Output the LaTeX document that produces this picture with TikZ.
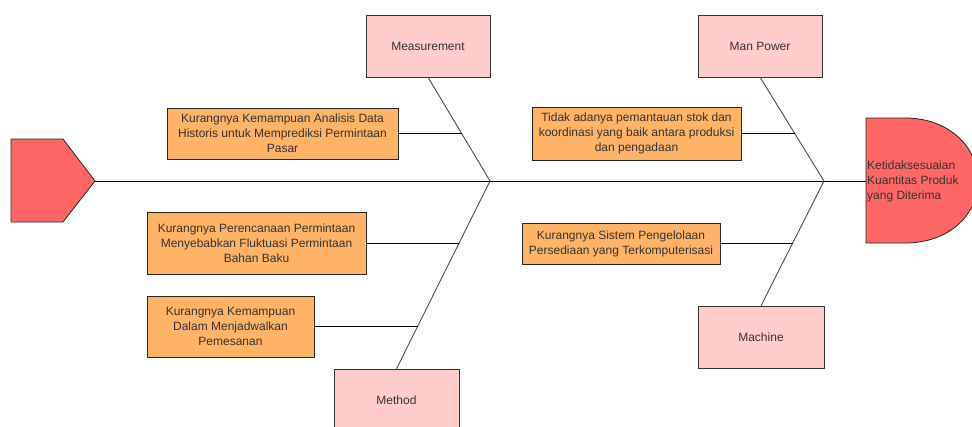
\documentclass[tikz,border=0pt]{standalone}
\usepackage{fontspec}
\setmainfont{Liberation Sans}
\definecolor{catpink}{HTML}{FFCCCC}
\definecolor{causeor}{HTML}{FFB366}
\definecolor{headred}{HTML}{FF6666}
\definecolor{txt}{HTML}{333333}
\begin{document}
\begin{tikzpicture}[x=1pt,y=-1pt,
  txtfont/.style={font=\fontsize{12}{15}\selectfont, text=txt},
  cat/.style={draw=black!80, fill=catpink, minimum width=124pt, minimum height=62pt, inner sep=0pt, txtfont},
  cause/.style={draw=black!85, fill=causeor, inner sep=0pt, align=center, txtfont},
  bone/.style={draw=black!70, line width=0.9pt},
  twig/.style={draw=black, line width=0.8pt}]
\useasboundingbox (0,0) rectangle (972,426);
\begin{scope}
\clip (0,0) rectangle (972,426);
% tail
\draw[fill=headred, draw=black!85, line width=0.8pt] (11,139) -- (63,139) -- (95,181) -- (63,222) -- (11,222) -- cycle;
\coordinate (tail) at (95,181);
% head
\draw[fill=headred, draw=black!85, line width=0.8pt] (866,118) -- (905,118) .. controls (950,118) and (978,148) .. (978,181) .. controls (978,214) and (950,243) .. (905,243) -- (866,243) -- cycle;
\coordinate (head) at (866,181);
\node[anchor=west, align=left, inner sep=0pt, txtfont] (headtxt) at (867,181) {Ketidaksesuaian\\Kuantitas Produk\\yang Diterima};
% spine
\coordinate (j1) at (490,181);
\coordinate (j2) at (824,181);
\draw[twig] (tail) -- (head);
% categories
\node[cat] (meas) at (428,46) {Measurement};
\node[cat] (man) at (760,46) {Man Power};
\node[cat, minimum width=126pt] (mach) at (761,337) {Machine};
\node[cat, minimum width=125pt] (meth) at (396.5,400) {Method};
\draw[bone] (meas.south) -- (j1);
\draw[bone] (meth.north) -- (j1);
\draw[bone] (man.south) -- (j2);
\draw[bone] (mach.north) -- (j2);
% causes
\node[cause, minimum width=231pt, minimum height=51pt] (c1) at (282.5,133.5) {Kurangnya Kemampuan Analisis Data\\Historis untuk Memprediksi Permintaan\\Pasar};
\node[cause, minimum width=219pt, minimum height=62pt] (c2) at (256.5,243) {Kurangnya Perencanaan Permintaan\\Menyebabkan Fluktuasi Permintaan\\Bahan Baku};
\node[cause, minimum width=167pt, minimum height=61pt] (c3) at (230.5,326.5) {Kurangnya Kemampuan\\Dalam Menjadwalkan\\Pemesanan};
\node[cause, minimum width=209pt, minimum height=53pt] (c4) at (636.5,133.5) {Tidak adanya pemantauan stok dan\\koordinasi yang baik antara produksi\\dan pengadaan};
\node[cause, minimum width=198pt, minimum height=41pt] (c5) at (621,243.5) {Kurangnya Sistem Pengelolaan\\Persediaan yang Terkomputerisasi};
\coordinate (b1) at (462,133.5);
\coordinate (b2) at (459,243);
\coordinate (b3) at (418,326.5);
\coordinate (b4) at (795,133.5);
\coordinate (b5) at (793,243.5);
\draw[twig] (c1.east) -- (b1);
\draw[twig] (c2.east) -- (b2);
\draw[twig] (c3.east) -- (b3);
\draw[twig] (c4.east) -- (b4);
\draw[twig] (c5.east) -- (b5);
\end{scope}
\end{tikzpicture}
\end{document}
